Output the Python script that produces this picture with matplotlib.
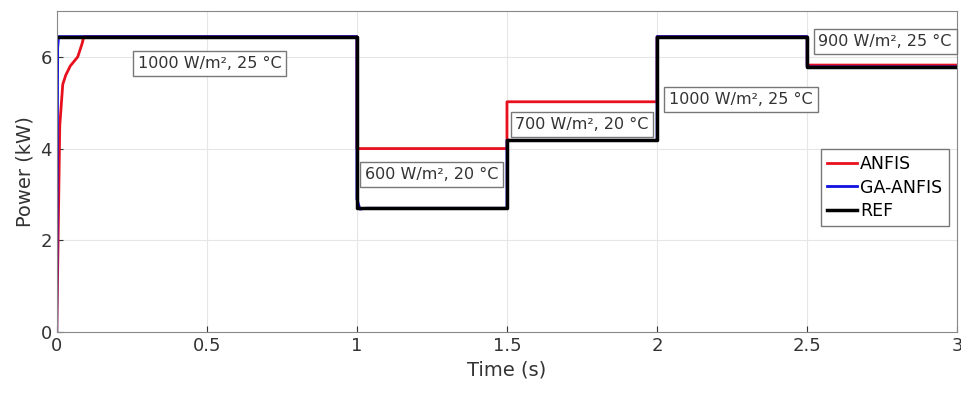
import matplotlib.pyplot as plt

# time breakpoints (s) and power levels (kW)
ref_t = [0, 1, 1, 1.5, 1.5, 2, 2, 2.5, 2.5, 3]
ref_p = [6.44, 6.44, 2.70, 2.70, 4.18, 4.18, 6.44, 6.44, 5.78, 5.78]

anfis_t = [0, 0.01, 0.02, 0.03, 0.045, 0.07, 0.085, 0.09, 1, 1, 1.5, 1.5, 2, 2, 2.5, 2.5, 3]
anfis_p = [0, 4.5, 5.4, 5.6, 5.8, 6.0, 6.3, 6.44, 6.44, 4.0, 4.0, 5.02, 5.02, 6.44, 6.44, 5.82, 5.82]

ga_t = [0, 0.003, 0.006, 1, 1.0, 1.01, 1.03, 1.5, 1.5, 2, 2, 2.5, 2.5, 3]
ga_p = [0, 6.2, 6.44, 6.44, 2.9, 2.68, 2.70, 2.70, 4.18, 4.18, 6.44, 6.44, 5.78, 5.78]

labels = ["1000 W/m², 25 °C", "600 W/m², 20 °C", "700 W/m², 20 °C",
          "1000 W/m², 25 °C", "900 W/m², 25 °C"]
label_t = [0.51, 1.25, 1.75, 2.28, 2.76]
label_p = [5.85, 3.43, 4.52, 5.07, 6.33]

fig = plt.figure(figsize=(9.62, 4.05), dpi=100)
ax = fig.add_axes([0.059, 0.18, 0.936, 0.793])

ax.plot(anfis_t, anfis_p, color="#e8101e", lw=2, label="ANFIS")
ax.plot(ga_t, ga_p, color="#1010e0", lw=2, label="GA-ANFIS")
ax.plot(ref_t, ref_p, color="black", lw=2.5, label="REF")

for txt, t, p in zip(labels, label_t, label_p):
    ax.text(t, p, txt, ha="center", va="center", fontsize=11.5, color="#333333",
            bbox=dict(boxstyle="square,pad=0.3", fc="white", ec="#777777", lw=1))

ax.set_xlim(0, 3)
ax.set_ylim(0, 7)
ax.set_xticks([0, 0.5, 1, 1.5, 2, 2.5, 3])
ax.set_xticklabels(["0", "0.5", "1", "1.5", "2", "2.5", "3"])
ax.set_yticks([0, 2, 4, 6])
ax.grid(True, color="#e6e6e6", lw=0.8)
ax.tick_params(labelsize=13, colors="#333333", direction="in", length=4)
for s in ax.spines.values():
    s.set_color("#888888")
ax.set_xlabel("Time (s)", fontsize=14, color="#333333")
ax.set_ylabel("Power (kW)", fontsize=14, color="#333333")

leg = ax.legend(loc="center right", bbox_to_anchor=(1.0, 0.45), fontsize=12.5,
                fancybox=False, framealpha=1, edgecolor="#777777",
                handlelength=1.7, handletextpad=0.2, borderpad=0.35, labelspacing=0.3)

fig.savefig("out.png", dpi=100)
